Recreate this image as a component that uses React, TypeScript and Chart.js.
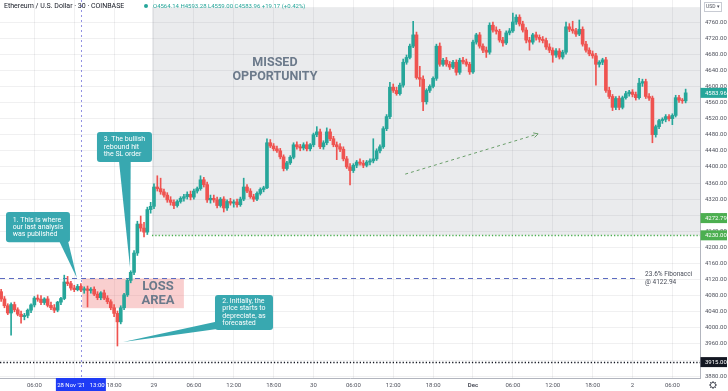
import React, { useEffect, useRef } from 'react';
import { Chart, registerables } from 'chart.js';

Chart.register(...registerables);

const SYMBOL_TITLE = 'Ethereum / U.S. Dollar · 30 · COINBASE';
const OHLC_TEXT = 'O4564.14 H4593.28 L4559.00 C4583.96 +19.17 (+0.42%)';

// time axis: hours after 28 Nov 2021 00:00, one candle every 30 minutes
const FIRST_CANDLE_HOUR = 1;
const CANDLE_HOURS = 0.5;

const opens = [
  4090, 4072, 4055, 4037, 4058, 4045, 4034, 4028, 4031, 4044,
  4057, 4074, 4071, 4063, 4072, 4056, 4050, 4044, 4064, 4073,
  4114, 4110, 4099, 4095, 4103, 4094, 4097, 4093, 4096, 4084,
  4075, 4087, 4074, 4065, 4050, 4036, 4015, 4050, 4082, 4118,
  4138, 4186, 4258, 4248, 4238, 4294, 4302, 4350, 4346, 4338,
  4330, 4318, 4312, 4304, 4314, 4322, 4326, 4332, 4325, 4340,
  4346, 4368, 4356, 4318, 4322, 4318, 4304, 4320, 4298, 4314,
  4310, 4313, 4306, 4320, 4350, 4340, 4326, 4320, 4334, 4344,
  4348, 4460, 4452, 4445, 4440, 4425, 4396, 4410, 4424, 4455,
  4450, 4447, 4455, 4445, 4455, 4480, 4487, 4450, 4460, 4487,
  4470, 4455, 4450, 4444, 4420, 4400, 4391, 4404, 4412, 4409,
  4404, 4412, 4415, 4420, 4440, 4450, 4495, 4525, 4598, 4590,
  4582, 4603, 4660, 4672, 4700, 4728, 4622, 4618, 4562, 4590,
  4600, 4620, 4700, 4655, 4665, 4655, 4648, 4660, 4635, 4665,
  4661, 4655, 4636, 4710, 4728, 4700, 4690, 4685, 4752, 4740,
  4737, 4715, 4708, 4733, 4738, 4760, 4772, 4755, 4740, 4715,
  4710, 4728, 4722, 4717, 4714, 4698, 4690, 4678, 4688, 4673,
  4685, 4748, 4742, 4738, 4730, 4742, 4705, 4690, 4681, 4676,
  4655, 4660, 4666, 4590, 4575, 4548, 4570, 4548, 4572, 4582,
  4586, 4580, 4572, 4608, 4612, 4575, 4571, 4480, 4500, 4515,
  4518, 4525, 4520, 4528, 4572, 4566, 4564.14,
];

const highs = [
  4096, 4078, 4060, 4062, 4064, 4050, 4042, 4036, 4047, 4060,
  4078, 4082, 4080, 4075, 4078, 4064, 4058, 4066, 4076, 4131,
  4128, 4116, 4106, 4108, 4110, 4102, 4104, 4100, 4102, 4090,
  4090, 4094, 4080, 4070, 4058, 4042, 4055, 4086, 4122, 4142,
  4192, 4265, 4278, 4262, 4300, 4312, 4358, 4378, 4372, 4345,
  4336, 4326, 4318, 4318, 4326, 4332, 4338, 4340, 4345, 4350,
  4378, 4374, 4362, 4330, 4330, 4325, 4324, 4326, 4318, 4322,
  4318, 4320, 4325, 4372, 4356, 4346, 4332, 4338, 4348, 4352,
  4470, 4468, 4458, 4452, 4446, 4430, 4414, 4428, 4460, 4462,
  4456, 4460, 4462, 4458, 4484, 4500, 4494, 4465, 4497, 4494,
  4476, 4462, 4458, 4450, 4426, 4408, 4408, 4416, 4420, 4416,
  4416, 4420, 4470, 4445, 4455, 4500, 4530, 4610, 4606, 4598,
  4608, 4668, 4678, 4705, 4762, 4735, 4650, 4626, 4594, 4604,
  4624, 4705, 4708, 4670, 4672, 4662, 4665, 4666, 4670, 4672,
  4668, 4660, 4715, 4732, 4734, 4706, 4698, 4758, 4760, 4748,
  4742, 4722, 4738, 4744, 4782, 4778, 4778, 4762, 4746, 4722,
  4732, 4735, 4728, 4724, 4720, 4706, 4696, 4694, 4694, 4690,
  4760, 4756, 4762, 4744, 4765, 4748, 4712, 4696, 4688, 4682,
  4664, 4670, 4672, 4598, 4580, 4575, 4576, 4576, 4588, 4590,
  4592, 4586, 4620, 4618, 4618, 4582, 4576, 4504, 4518, 4522,
  4530, 4530, 4532, 4578, 4578, 4570, 4593.28,
];

const lows = [
  4066, 4050, 4033, 3982, 4040, 4030, 4012, 4020, 4025, 4038,
  4052, 4066, 4058, 4058, 4052, 4045, 4038, 4040, 4058, 4070,
  4105, 4094, 4090, 4092, 4090, 4086, 4052, 4086, 4080, 4070,
  4070, 4070, 4060, 4045, 4028, 3955, 4010, 4045, 4078, 4112,
  4132, 4180, 4240, 4226, 4232, 4285, 4296, 4340, 4332, 4325,
  4312, 4305, 4296, 4300, 4310, 4315, 4320, 4318, 4320, 4335,
  4342, 4350, 4312, 4310, 4312, 4298, 4300, 4288, 4292, 4305,
  4300, 4300, 4302, 4316, 4336, 4322, 4314, 4316, 4330, 4338,
  4346, 4448, 4440, 4436, 4420, 4390, 4392, 4406, 4420, 4444,
  4440, 4442, 4440, 4440, 4450, 4475, 4445, 4444, 4455, 4465,
  4450, 4418, 4438, 4415, 4396, 4355, 4386, 4398, 4404, 4398,
  4400, 4405, 4410, 4416, 4435, 4446, 4490, 4520, 4585, 4578,
  4578, 4598, 4655, 4668, 4696, 4618, 4600, 4540, 4556, 4585,
  4596, 4615, 4650, 4650, 4650, 4642, 4644, 4628, 4630, 4656,
  4650, 4630, 4632, 4705, 4695, 4684, 4672, 4680, 4735, 4730,
  4710, 4700, 4704, 4728, 4734, 4754, 4750, 4735, 4708, 4690,
  4705, 4715, 4710, 4708, 4692, 4684, 4660, 4672, 4668, 4668,
  4680, 4736, 4732, 4724, 4726, 4700, 4685, 4676, 4670, 4603,
  4648, 4654, 4585, 4570, 4540, 4542, 4542, 4544, 4568, 4576,
  4574, 4566, 4568, 4600, 4570, 4565, 4460, 4474, 4495, 4508,
  4512, 4514, 4505, 4524, 4560, 4558, 4559.0,
];

const closes = [
  4072, 4055, 4037, 4058, 4045, 4034, 4028, 4031, 4044, 4057,
  4074, 4071, 4063, 4072, 4056, 4050, 4044, 4064, 4073, 4114,
  4110, 4099, 4095, 4103, 4094, 4097, 4093, 4096, 4084, 4075,
  4087, 4074, 4065, 4050, 4036, 4015, 4050, 4082, 4118, 4138,
  4186, 4258, 4248, 4238, 4294, 4302, 4350, 4346, 4338, 4330,
  4318, 4312, 4304, 4314, 4322, 4326, 4332, 4325, 4340, 4346,
  4368, 4356, 4318, 4322, 4318, 4304, 4320, 4298, 4314, 4310,
  4313, 4306, 4320, 4350, 4340, 4326, 4320, 4334, 4344, 4348,
  4460, 4452, 4445, 4440, 4425, 4396, 4410, 4424, 4455, 4450,
  4447, 4455, 4445, 4455, 4480, 4487, 4450, 4460, 4487, 4470,
  4455, 4450, 4444, 4420, 4400, 4391, 4404, 4412, 4409, 4404,
  4412, 4415, 4420, 4440, 4450, 4495, 4525, 4598, 4590, 4582,
  4603, 4660, 4672, 4700, 4728, 4622, 4618, 4562, 4590, 4600,
  4620, 4700, 4655, 4665, 4655, 4648, 4660, 4635, 4665, 4661,
  4655, 4636, 4710, 4728, 4700, 4690, 4685, 4752, 4740, 4737,
  4715, 4708, 4733, 4738, 4760, 4772, 4755, 4740, 4715, 4710,
  4728, 4722, 4717, 4714, 4698, 4690, 4678, 4688, 4673, 4685,
  4748, 4742, 4738, 4730, 4742, 4705, 4690, 4681, 4676, 4655,
  4660, 4666, 4590, 4575, 4548, 4570, 4548, 4572, 4582, 4586,
  4580, 4572, 4608, 4612, 4575, 4571, 4480, 4500, 4515, 4518,
  4525, 4520, 4528, 4572, 4566, 4564.14, 4583.96,
];

const xTickHours = [6, 12, 18, 24, 30, 36, 42, 48, 54, 60, 66, 72, 78, 84, 90, 96, 102];
const xTickLabels = ['06:00', '12:00', '18:00', '29', '06:00', '12:00', '18:00', '30', '06:00', '12:00', '18:00', 'Dec', '06:00', '12:00', '18:00', '2', '06:00'];
const yTickValues = [3880, 3920, 3960, 4000, 4040, 4080, 4120, 4160, 4200, 4240, 4280, 4320, 4360, 4400, 4440, 4480, 4520, 4560, 4600, 4640, 4680, 4720, 4760];

const X_MIN = 0.83;
const X_MAX = 106.16;
const Y_MIN = 3875.5;
const Y_MAX = 4814.7;

const UP = '#26a69a';
const DOWN = '#ef5350';
const CALLOUT = '#38a8b0';
const ZONE_TEXT = '#6c7a8b';
const FONT = 'Roboto';

const lastPrice = 4583.96;
const axisMarks = [
  { value: 4272.79, bg: '#4caf50', fg: '#ffffff' },
  { value: 4230, bg: '#4caf50', fg: '#ffffff' },
  { value: 3915, bg: '#131722', fg: '#ffffff' },
];
const publishHour = 13;
const publishLabel = "28 Nov '21   13:00";
const fibLevel = 4122.94;
const fibEndHour = 96.4;
const fibLabelHour = 97.9;
const supportLevel = 4230;
const supportStartHour = 23.7;
const floorLevel = 3915;
const missedZone = { t0: 23.7, pTop: 4797, pBottom: 4230, text: ['MISSED', 'OPPORTUNITY'], tText: 42.2, pText: 4640 };
const lossZone = { t0: 13.2, t1: 28.5, pTop: 4123, pBottom: 4049, text: ['LOSS', 'AREA'], tText: 24.6, pText: 4084 };
const trendArrow = { t0: 61.8, p0: 4382, t1: 81.8, p1: 4482 };

const callouts = [
  { lines: ['1. This is where', 'our last analysis', 'was published'], t0: 1.73, t1: 11.36, pTop: 4288, pBottom: 4213,
    pointer: [[9.6, 4220], [11.0, 4220], [12.4, 4124]] },
  { lines: ['3. The bullish', 'rebound hit', 'the SL order'], t0: 15.42, t1: 23.7, pTop: 4487, pBottom: 4412,
    pointer: [[18.7, 4420], [20.5, 4420], [20.4, 4149]] },
  { lines: ['2. Initially, the', 'price starts to', 'depreciate, as', 'forecasted'], t0: 33.18, t1: 41.91, pTop: 4082, pBottom: 3995,
    pointer: [[33.5, 4016], [33.5, 3997], [19.34, 3965]] },
];

const candleHours = opens.map((_, i) => FIRST_CANDLE_HOUR + i * CANDLE_HOURS);

function roundRect(ctx: any, x: number, y: number, w: number, h: number, r: number) {
  ctx.beginPath();
  ctx.moveTo(x + r, y);
  ctx.lineTo(x + w - r, y);
  ctx.quadraticCurveTo(x + w, y, x + w, y + r);
  ctx.lineTo(x + w, y + h - r);
  ctx.quadraticCurveTo(x + w, y + h, x + w - r, y + h);
  ctx.lineTo(x + r, y + h);
  ctx.quadraticCurveTo(x, y + h, x, y + h - r);
  ctx.lineTo(x, y + r);
  ctx.quadraticCurveTo(x, y, x + r, y);
  ctx.closePath();
}

const annotationPlugin = {
  id: 'tvAnnotations',
  beforeDatasetsDraw(chart: any) {
    const { ctx, chartArea: a, scales } = chart;
    const X = (v: number) => scales.x.getPixelForValue(v);
    const Y = (v: number) => scales.y.getPixelForValue(v);
    ctx.save();
    ctx.beginPath();
    ctx.rect(a.left, a.top, a.right - a.left, a.bottom - a.top);
    ctx.clip();

    // missed opportunity zone
    ctx.fillStyle = 'rgba(105,110,125,0.14)';
    ctx.fillRect(X(missedZone.t0), Y(missedZone.pTop), a.right - X(missedZone.t0), Y(missedZone.pBottom) - Y(missedZone.pTop));
    // loss zone
    ctx.fillStyle = 'rgba(240,128,128,0.38)';
    ctx.fillRect(X(lossZone.t0), Y(lossZone.pTop), X(lossZone.t1) - X(lossZone.t0), Y(lossZone.pBottom) - Y(lossZone.pTop));

    // vertical publish line
    ctx.strokeStyle = 'rgba(98,98,215,0.7)';
    ctx.lineWidth = 1;
    ctx.setLineDash([2, 3]);
    ctx.beginPath();
    ctx.moveTo(Math.round(X(publishHour)) + 0.5, a.top);
    ctx.lineTo(Math.round(X(publishHour)) + 0.5, a.bottom);
    ctx.stroke();

    // fibonacci level
    ctx.strokeStyle = '#5c6bc0';
    ctx.setLineDash([5, 4]);
    ctx.beginPath();
    ctx.moveTo(a.left, Math.round(Y(fibLevel)) + 0.5);
    ctx.lineTo(X(fibEndHour), Math.round(Y(fibLevel)) + 0.5);
    ctx.stroke();

    // support dotted
    ctx.strokeStyle = '#4caf50';
    ctx.lineWidth = 1.3;
    ctx.setLineDash([1.3, 2]);
    ctx.beginPath();
    ctx.moveTo(X(supportStartHour), Math.round(Y(supportLevel)) + 0.5);
    ctx.lineTo(a.right, Math.round(Y(supportLevel)) + 0.5);
    ctx.stroke();

    // floor dotted
    ctx.strokeStyle = '#131722';
    ctx.beginPath();
    ctx.moveTo(a.left, Math.round(Y(floorLevel)) + 0.5);
    ctx.lineTo(a.right, Math.round(Y(floorLevel)) + 0.5);
    ctx.stroke();

    // trend arrow
    const ax0 = X(trendArrow.t0), ay0 = Y(trendArrow.p0), ax1 = X(trendArrow.t1), ay1 = Y(trendArrow.p1);
    ctx.strokeStyle = '#6a9e6a';
    ctx.lineWidth = 1;
    ctx.setLineDash([3, 3]);
    ctx.beginPath();
    ctx.moveTo(ax0, ay0);
    ctx.lineTo(ax1, ay1);
    ctx.stroke();
    ctx.setLineDash([]);
    const ang = Math.atan2(ay1 - ay0, ax1 - ax0);
    ctx.beginPath();
    ctx.moveTo(ax1 - 5 * Math.cos(ang - 0.5), ay1 - 5 * Math.sin(ang - 0.5));
    ctx.lineTo(ax1, ay1);
    ctx.lineTo(ax1 - 5 * Math.cos(ang + 0.5), ay1 - 5 * Math.sin(ang + 0.5));
    ctx.stroke();

    // zone texts
    ctx.fillStyle = ZONE_TEXT;
    ctx.font = `bold 12.5px ${FONT}`;
    ctx.textAlign = 'center';
    ctx.textBaseline = 'middle';
    ctx.fillText(missedZone.text[0], X(missedZone.tText), Y(missedZone.pText) - 7);
    ctx.fillText(missedZone.text[1], X(missedZone.tText), Y(missedZone.pText) + 7);
    ctx.font = `bold 13px ${FONT}`;
    ctx.fillText(lossZone.text[0], X(lossZone.tText), Y(lossZone.pText) - 7);
    ctx.fillText(lossZone.text[1], X(lossZone.tText), Y(lossZone.pText) + 7);

    // fib label
    ctx.fillStyle = '#4a4e5a';
    ctx.font = `6.5px ${FONT}`;
    ctx.textAlign = 'left';
    ctx.fillText('23.6% Fibonacci', X(fibLabelHour), Y(fibLevel) - 4);
    ctx.fillText('@ 4122.94', X(fibLabelHour), Y(fibLevel) + 3.5);
    ctx.restore();
  },
  afterDatasetsDraw(chart: any) {
    const { ctx, scales } = chart;
    const X = (v: number) => scales.x.getPixelForValue(v);
    const Y = (v: number) => scales.y.getPixelForValue(v);
    ctx.save();
    for (const c of callouts) {
      const l = X(c.t0), r = X(c.t1), t = Y(c.pTop), b = Y(c.pBottom);
      ctx.fillStyle = CALLOUT;
      roundRect(ctx, l, t, r - l, b - t, 3);
      ctx.fill();
      ctx.beginPath();
      ctx.moveTo(X(c.pointer[0][0]), Y(c.pointer[0][1]));
      ctx.lineTo(X(c.pointer[1][0]), Y(c.pointer[1][1]));
      ctx.lineTo(X(c.pointer[2][0]), Y(c.pointer[2][1]));
      ctx.closePath();
      ctx.fill();
      ctx.fillStyle = '#ffffff';
      ctx.font = `7px ${FONT}`;
      ctx.textAlign = 'left';
      ctx.textBaseline = 'middle';
      const maxW = Math.max(...c.lines.map((s) => ctx.measureText(s).width));
      const lh = 7.3;
      const sx = (l + r) / 2 - maxW / 2;
      const sy = (t + b) / 2 - ((c.lines.length - 1) * lh) / 2;
      c.lines.forEach((s, i) => ctx.fillText(s, sx, sy + i * lh));
    }
    ctx.restore();
  },
  afterDraw(chart: any) {
    const { ctx, chartArea: a, scales, width, height } = chart;
    const X = (v: number) => scales.x.getPixelForValue(v);
    const Y = (v: number) => scales.y.getPixelForValue(v);
    ctx.save();
    ctx.textBaseline = 'middle';

    // price axis marks
    const axisBox = (value: number, bg: string, fg: string) => {
      const yc = Y(value);
      ctx.fillStyle = bg;
      ctx.fillRect(a.right + 0.5, yc - 5, width - a.right - 1.5, 10);
      ctx.fillStyle = fg;
      ctx.font = `6px ${FONT}`;
      ctx.textAlign = 'left';
      ctx.fillText(value.toFixed(2), a.right + 5, yc + 0.5);
    };
    axisBox(lastPrice, UP, '#ffffff');
    axisMarks.forEach((m) => axisBox(m.value, m.bg, m.fg));

    // time crosshair label
    const px = X(publishHour);
    ctx.fillStyle = '#1f3cf5';
    ctx.fillRect(px - 25, a.bottom, 50, height - a.bottom);
    ctx.fillStyle = '#ffffff';
    ctx.font = `6px ${FONT}`;
    ctx.textAlign = 'center';
    ctx.fillText(publishLabel, px, a.bottom + 7);

    // header
    ctx.textAlign = 'left';
    ctx.fillStyle = '#131722';
    ctx.font = `7px ${FONT}`;
    ctx.fillText(SYMBOL_TITLE, 4, 6.5);
    ctx.fillStyle = UP;
    ctx.beginPath();
    ctx.arc(146, 6, 2, 0, Math.PI * 2);
    ctx.fill();
    ctx.font = `6px ${FONT}`;
    ctx.fillText(OHLC_TEXT, 153, 6.5);

    // currency box
    ctx.strokeStyle = '#c8cbd3';
    ctx.lineWidth = 1;
    ctx.strokeRect(704.5, 2.5, 17, 9);
    ctx.fillStyle = '#50535e';
    ctx.font = `5px ${FONT}`;
    ctx.fillText('USD ▾', 706, 7.2);

    // settings gear
    const gx = 713, gy = 385;
    ctx.strokeStyle = '#50535e';
    ctx.beginPath();
    ctx.arc(gx, gy, 2.6, 0, Math.PI * 2);
    ctx.stroke();
    for (let i = 0; i < 8; i++) {
      const an = (i * Math.PI) / 4;
      ctx.beginPath();
      ctx.moveTo(gx + 2.6 * Math.cos(an), gy + 2.6 * Math.sin(an));
      ctx.lineTo(gx + 4 * Math.cos(an), gy + 4 * Math.sin(an));
      ctx.stroke();
    }
    ctx.restore();
  },
};

export default function App() {
  const canvasRef = useRef<HTMLCanvasElement | null>(null);

  useEffect(() => {
    document.body.style.margin = '0';
    const canvas = canvasRef.current;
    if (!canvas) return;
    const colors = opens.map((o, i) => (closes[i] >= o ? UP : DOWN));
    const chart = new Chart(canvas, {
      type: 'bar',
      data: {
        datasets: [
          {
            label: 'wicks',
            data: candleHours.map((t, i) => ({ x: t, y: [lows[i], highs[i]] })),
            backgroundColor: colors,
            barThickness: 1,
            grouped: false,
            borderWidth: 0,
            order: 2,
          } as any,
          {
            label: 'bodies',
            data: candleHours.map((t, i) => ({ x: t, y: [opens[i], closes[i]] })),
            backgroundColor: colors,
            barThickness: 3,
            grouped: false,
            borderWidth: 0,
            order: 1,
          } as any,
        ],
      },
      options: {
        responsive: false,
        animation: false,
        devicePixelRatio: 1,
        layout: { padding: 0 },
        plugins: { legend: { display: false }, tooltip: { enabled: false } },
        scales: {
          x: {
            type: 'linear',
            min: X_MIN,
            max: X_MAX,
            offset: false,
            grid: { offset: false, color: 'rgba(42,46,57,0.07)', drawTicks: false },
            border: { display: true, color: '#b2b5be' },
            afterBuildTicks: (s: any) => {
              s.ticks = xTickHours.map((v) => ({ value: v }));
            },
            afterFit: (s: any) => {
              s.height = 13;
              s.paddingLeft = 0;
              s.paddingRight = 0;
            },
            ticks: {
              autoSkip: false,
              maxRotation: 0,
              padding: 4,
              color: '#50535e',
              font: (c: any) => ({ size: 6, family: FONT, weight: c.tick && c.tick.value === 72 ? 'bold' : 'normal' }),
              callback: (v: any) => {
                const i = xTickHours.indexOf(Number(v));
                return i >= 0 ? xTickLabels[i] : '';
              },
            },
          },
          y: {
            type: 'linear',
            position: 'right',
            min: Y_MIN,
            max: Y_MAX,
            grid: { color: 'rgba(42,46,57,0.07)', drawTicks: false },
            border: { display: true, color: '#b2b5be' },
            afterBuildTicks: (s: any) => {
              s.ticks = yTickValues.map((v) => ({ value: v }));
            },
            afterFit: (s: any) => {
              s.width = 28;
              s.paddingTop = 0;
              s.paddingBottom = 0;
            },
            ticks: {
              padding: 5,
              color: '#50535e',
              font: { size: 6, family: FONT },
              callback: (v: any) => Number(v).toFixed(2),
            },
          },
        },
      },
      plugins: [annotationPlugin],
    } as any);
    return () => chart.destroy();
  }, []);

  return (
    <div style={{ position: 'absolute', left: 0, top: 0, width: 728, height: 391, overflow: 'hidden', background: '#ffffff' }}>
      <canvas ref={canvasRef} width={728} height={391} style={{ display: 'block', width: 728, height: 391 }} />
    </div>
  );
}
